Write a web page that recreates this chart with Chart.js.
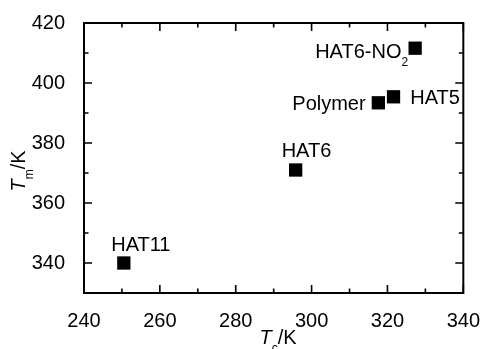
<!DOCTYPE html>
<html><head><meta charset="utf-8">
<script src="https://cdn.jsdelivr.net/npm/chart.js@4"></script>
<style>html,body{margin:0;padding:0;background:#fff}#wrap{width:488px;height:349px;position:relative}canvas{display:block}</style>
</head><body><div id="wrap"><canvas id="c" width="488" height="349"></canvas></div>
<script>
// ---- data ----
const compounds = ['HAT11', 'HAT6', 'Polymer', 'HAT5', 'HAT6-NO_2'];
const tcValues = [250.5, 295.8, 317.6, 321.6, 327.3];
const tmValues = [340.0, 371.0, 393.4, 395.4, 411.6];
const xTickValues = [240, 260, 280, 300, 320, 340];
const yTickValues = [340, 360, 380, 400, 420];
const xMinorTicks = [250, 270, 290, 310, 330];
const yMinorTicks = [350, 370, 390, 410];
const xRange = [240, 340];
const yRange = [330, 420];

// ---- style ----
const FONT = '"Liberation Sans", Arial, Helvetica, sans-serif';
const labelStyle = [
  {dx: 17, dy: -12, align: 'center'},
  {dx: -14, dy: -13, align: 'left'},
  {dx: -12.7, dy: 7.3, align: 'right'},
  {dx: 16.7, dy: 7.6, align: 'left'},
  {dx: -7, dy: 10, align: 'right'}
];

function parseParts(s) {
  const i = s.indexOf('_');
  if (i < 0) return [{t: s}];
  return [{t: s.slice(0, i)}, {t: s.slice(i + 1), sub: true}];
}
function fontFor(p, size) {
  return (p.italic ? 'italic ' : '') + (p.sub ? 12 : size) + 'px ' + FONT;
}
function drawRich(ctx, parts, x, y, align, size) {
  let total = 0;
  const widths = parts.map(p => { ctx.font = fontFor(p, size); const w = ctx.measureText(p.t).width; total += w; return w; });
  let cx = align === 'center' ? x - total / 2 : align === 'right' ? x - total : x;
  ctx.textAlign = 'left';
  ctx.textBaseline = 'alphabetic';
  parts.forEach((p, i) => {
    ctx.font = fontFor(p, size);
    ctx.fillText(p.t, cx, y + (p.sub ? 8 : 0));
    cx += widths[i];
  });
}

const framePlugin = {
  id: 'frame',
  afterDatasetsDraw(chart) {
    const ctx = chart.ctx;
    const meta = chart.getDatasetMeta(0);
    ctx.save();
    ctx.fillStyle = '#000';
    meta.data.forEach((el, i) => {
      const st = labelStyle[i];
      drawRich(ctx, parseParts(compounds[i]), el.x + st.dx, el.y + st.dy, st.align, 20);
    });
    ctx.restore();
  },
  afterDraw(chart) {
    const ctx = chart.ctx;
    const a = chart.chartArea;
    const xs = chart.scales.x, ys = chart.scales.y;
    ctx.save();
    ctx.strokeStyle = '#000';
    ctx.lineWidth = 1.6;
    const tick = (vals, len) => {
      vals.forEach(v => {
        const px = xs.getPixelForValue(v);
        ctx.beginPath();
        ctx.moveTo(px, a.bottom); ctx.lineTo(px, a.bottom - len);
        ctx.moveTo(px, a.top); ctx.lineTo(px, a.top + len);
        ctx.stroke();
      });
    };
    const tickY = (vals, len) => {
      vals.forEach(v => {
        const py = ys.getPixelForValue(v);
        ctx.beginPath();
        ctx.moveTo(a.left, py); ctx.lineTo(a.left + len, py);
        ctx.moveTo(a.right, py); ctx.lineTo(a.right - len, py);
        ctx.stroke();
      });
    };
    tick(xTickValues, 8); tick(xMinorTicks, 4.5);
    tickY(yTickValues, 8); tickY(yMinorTicks, 4.5);
    ctx.lineWidth = 2;
    ctx.strokeRect(a.left, a.top, a.right - a.left, a.bottom - a.top);

    // axis titles
    ctx.fillStyle = '#000';
    const xt = [{t: 'T', italic: true}, {t: 'c', sub: true}, {t: '/K'}];
    drawRich(ctx, xt, (a.left + a.right) / 2 + 4.5, a.bottom + 51, 'center', 20);
    const yt = [{t: 'T', italic: true}, {t: 'm', sub: true}, {t: '/K'}];
    ctx.translate(25, (a.top + a.bottom) / 2 + 13);
    ctx.rotate(-Math.PI / 2);
    drawRich(ctx, yt, 0, 0, 'center', 20);
    ctx.restore();
  }
};

new Chart(document.getElementById('c'), {
  type: 'scatter',
  data: {
    labels: compounds,
    datasets: [{
      data: tcValues.map((x, i) => ({x: x, y: tmValues[i]})),
      pointStyle: 'rect',
      pointRadius: 9.4,
      pointHoverRadius: 9.4,
      borderWidth: 0,
      backgroundColor: '#000',
      borderColor: '#000',
      clip: false
    }]
  },
  options: {
    responsive: false,
    animation: false,
    devicePixelRatio: 1,
    events: [],
    layout: {padding: {top: 23, right: 20, left: 0, bottom: 0}},
    plugins: {legend: {display: false}, tooltip: {enabled: false}},
    scales: {
      x: {
        type: 'linear', min: xRange[0], max: xRange[1],
        grid: {display: false}, border: {display: false},
        afterBuildTicks: s => { s.ticks = xTickValues.map(v => ({value: v})); },
        afterFit: s => { s.height = 56; },
        ticks: {color: '#000', font: {family: FONT, size: 20}, padding: 8, maxRotation: 0, autoSkip: false}
      },
      y: {
        type: 'linear', min: yRange[0], max: yRange[1],
        grid: {display: false}, border: {display: false},
        afterBuildTicks: s => { s.ticks = yTickValues.map(v => ({value: v})); },
        afterFit: s => { s.width = 84; },
        ticks: {color: '#000', font: {family: FONT, size: 20}, padding: 11, autoSkip: false}
      }
    }
  },
  plugins: [framePlugin]
});
</script></body></html>
